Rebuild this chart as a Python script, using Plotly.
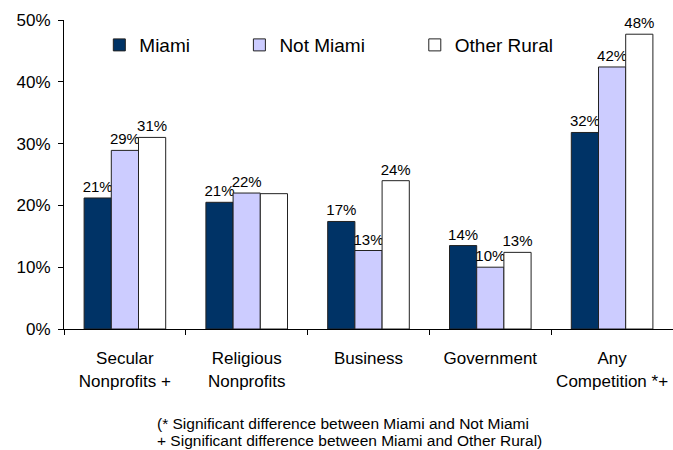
import plotly.graph_objects as go

categories = ["Secular<br>Nonprofits +", "Religious<br>Nonprofits", "Business", "Government", "Any<br>Competition *+"]
miami = [21.2, 20.5, 17.4, 13.5, 31.8]
not_miami = [28.9, 22.0, 12.7, 10.0, 42.4]
other_rural = [31.0, 21.9, 24.0, 12.4, 47.7]
miami_labels = ["21%", "21%", "17%", "14%", "32%"]
not_miami_labels = ["29%", "22%", "13%", "10%", "42%"]
other_rural_labels = ["31%", "", "24%", "13%", "48%"]
y_ticks = [0, 10, 20, 30, 40, 50]
y_tick_text = ["0%", "10%", "20%", "30%", "40%", "50%"]
footnotes = ["(* Significant difference between Miami and Not Miami",
             "+ Significant difference between Miami and Other Rural)"]

font = "Liberation Sans, Arial, sans-serif"
series = [
    ("Miami", miami, miami_labels, "#003366", "legend", 0.058),
    ("Not Miami", not_miami, not_miami_labels, "#CCCCFF", "legend2", 0.288),
    ("Other Rural", other_rural, other_rural_labels, "#FFFFFF", "legend3", 0.576),
]

fig = go.Figure()
legends = {}
for name, vals, labels, color, leg, lx in series:
    fig.add_trace(go.Bar(
        name=name, x=categories, y=vals, text=labels, legend=leg,
        textposition="outside", cliponaxis=False, constraintext="none",
        textfont=dict(family=font, size=15, color="black"),
        marker=dict(color=color, line=dict(color="#222222", width=1)),
        showlegend=True, hoverinfo="skip",
    ))
    legends[leg] = dict(orientation="h", x=lx, y=0.919, xanchor="left", yanchor="middle",
                        font=dict(family=font, size=19, color="black"),
                        bgcolor="rgba(0,0,0,0)", itemwidth=30)

fig.update_layout(
    width=673, height=450, showlegend=True,
    margin=dict(l=64, r=0, t=20, b=121),
    paper_bgcolor="white", plot_bgcolor="white",
    barmode="group", bargap=0.33, bargroupgap=0,
    font=dict(family=font, size=17, color="black"),
    yaxis=dict(range=[0, 50], tickvals=y_ticks, ticktext=y_tick_text,
               showgrid=False, showline=True, linecolor="black", linewidth=1,
               ticks="outside", ticklen=5, tickcolor="black", ticklabelstandoff=4,
               tickfont=dict(family=font, size=17), zeroline=False, automargin=False),
    xaxis=dict(showline=True, linecolor="black", linewidth=1,
               ticks="outside", ticklen=5, tickcolor="black", tickson="boundaries",
               ticklabelstandoff=14,
               tickfont=dict(family=font, size=17), showgrid=False, automargin=False),
    **legends,
)
for line, yy in zip(footnotes, [-0.306, -0.360]):
    fig.add_annotation(
        text=line, xref="paper", yref="paper", x=(155 - 64) / 609, y=yy,
        xanchor="left", yanchor="middle", align="left", showarrow=False,
        font=dict(family=font, size=15.5, color="black"),
    )
fig.write_html("out.html", config={"displayModeBar": False},
               post_script="document.body.style.margin='0';")
